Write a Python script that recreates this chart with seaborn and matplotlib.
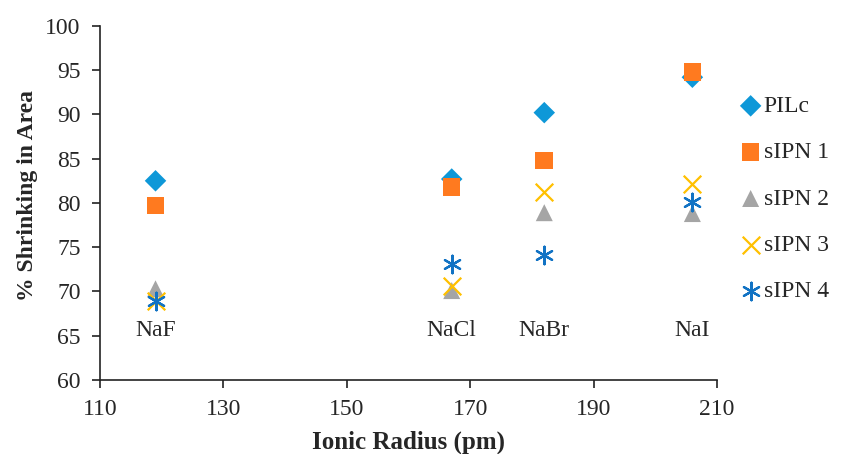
import matplotlib
matplotlib.use("Agg")
import matplotlib.pyplot as plt
import seaborn as sns
import pandas as pd

# data
salts = ["NaF", "NaCl", "NaBr", "NaI"]
ionic_radius = [119, 167, 182, 206]
pilc = [82.5, 82.7, 90.2, 94.2]
sipn1 = [79.7, 81.8, 84.8, 94.8]
sipn2 = [70.3, 70.1, 78.9, 78.8]
sipn3 = [68.9, 70.6, 81.2, 82.1]
sipn4 = [68.9, 73.1, 74.1, 80.1]

series = ["PILc", "sIPN 1", "sIPN 2", "sIPN 3", "sIPN 4"]
values = [pilc, sipn1, sipn2, sipn3, sipn4]
colors = ["#0E98D8", "#FF7A1F", "#A5A5A5", "#FFC000", "#1273C4"]
markers = ["D", "s", "^", "x", (6, 2, 0)]

rows = []
for name, vals in zip(series, values):
    for r, v in zip(ionic_radius, vals):
        rows.append({"radius": r, "shrink": v, "sample": name})
df = pd.DataFrame(rows)

sns.set_style("ticks")
plt.rcParams["font.family"] = ["Liberation Serif", "DejaVu Serif"]

fig = plt.figure(figsize=(8.43, 4.54), dpi=100)
ax = fig.add_axes([0.1186, 0.163, 0.732, 0.78])

sizes = {"PILc": 120, "sIPN 1": 160, "sIPN 2": 150, "sIPN 3": 160, "sIPN 4": 160}
for name, col, mk in zip(series, colors, markers):
    sub = df[df["sample"] == name]
    lined = name in ("sIPN 3", "sIPN 4")
    sns.scatterplot(data=sub, x="radius", y="shrink", ax=ax, color=col,
                    marker=mk, s=sizes[name], linewidth=1.6 if lined else 0,
                    edgecolor=col if lined else "none",
                    label=name, zorder=3)

for s, r in zip(salts, ionic_radius):
    ax.text(r, 65.6, s, ha="center", va="center", fontsize=17)

ax.set_xlim(110, 210)
ax.set_ylim(60, 100)
ax.set_xticks(range(110, 211, 20))
ax.set_yticks(range(60, 101, 5))
ax.tick_params(labelsize=17, width=1.2, length=6, pad=8, color="#222222")
for sp in ["left", "bottom"]:
    ax.spines[sp].set_linewidth(1.2)
    ax.spines[sp].set_color("#222222")
sns.despine(ax=ax)

ax.set_xlabel("Ionic Radius (pm)", fontsize=18, fontweight="bold", labelpad=7)
ax.set_ylabel("% Shrinking in Area", fontsize=17, fontweight="bold")
ax.yaxis.set_label_coords(-0.1, 0.52)

ax.legend(loc="upper left", bbox_to_anchor=(1.02, 0.83), frameon=False,
          fontsize=17, handlelength=1.0, handletextpad=0.05,
          labelspacing=1.05, borderaxespad=0)

fig.savefig("out.png", dpi=100)
